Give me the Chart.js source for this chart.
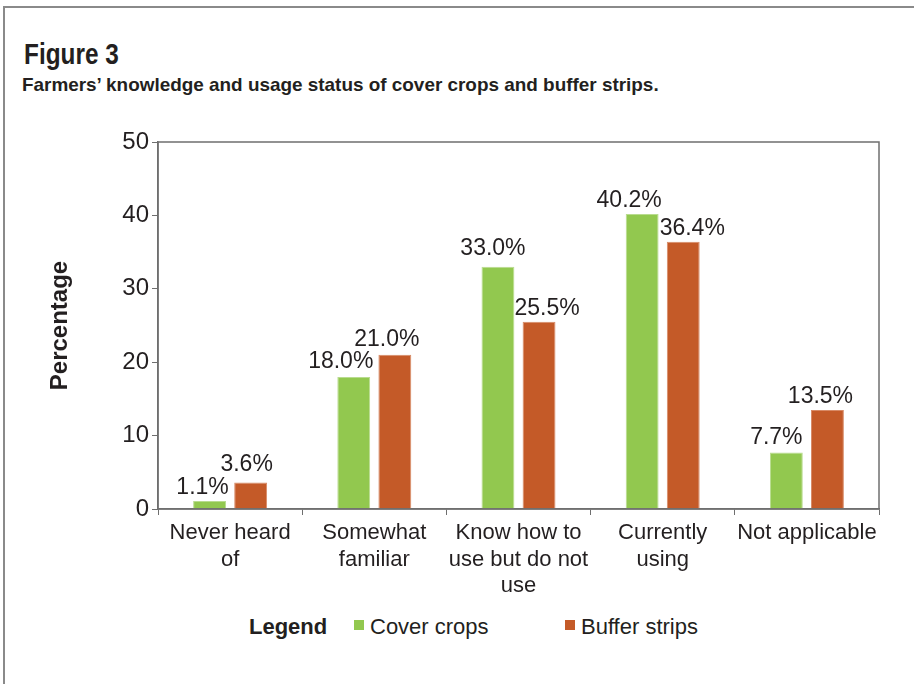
<!DOCTYPE html>
<html>
<head>
<meta charset="utf-8">
<script src="https://cdn.jsdelivr.net/npm/chart.js@4.4.1/dist/chart.umd.min.js"></script>
<style>
  html, body { margin: 0; padding: 0; width: 914px; height: 684px; overflow: hidden; background: #fff; }
  body { position: relative; font-family: "Liberation Sans", Arial, sans-serif; color: #231f20; }
  .frame { position: absolute; left: 3px; top: 6px; width: 2000px; height: 2000px;
           border-left: 2px solid #8a8a8a; border-top: 2px solid #8a8a8a; }
  .fig { position: absolute; left: 24px; top: 38px; font: bold 29px "Liberation Sans", Arial, sans-serif;
         transform: scaleX(0.84); transform-origin: left top; }
  .sub { position: absolute; left: 22px; top: 74px; font: bold 19px "Liberation Sans", Arial, sans-serif;
         transform: scaleX(0.995); transform-origin: left top; white-space: nowrap; }
  #wrap { position: absolute; left: 0; top: 120px; width: 900px; height: 480px; }
  .leg { position: absolute; top: 614px; font-size: 22px; line-height: 26px; white-space: nowrap; }
  .sw { position: absolute; top: 620px; width: 10px; height: 10px; }
</style>
</head>
<body>
<div class="frame"></div>
<div class="fig">Figure 3</div>
<div class="sub">Farmers’ knowledge and usage status of cover crops and buffer strips.</div>
<div id="wrap"><canvas id="chart"></canvas></div>
<div class="leg" style="left:249px;font-weight:bold;">Legend</div>
<div class="sw" style="left:354px;background:#92c84f;"></div>
<div class="leg" style="left:370px;">Cover crops</div>
<div class="sw" style="left:565px;background:#c45a28;"></div>
<div class="leg" style="left:581px;">Buffer strips</div>
<script>
const categories = [['Never heard', 'of'], ['Somewhat', 'familiar'], ['Know how to', 'use but do not', 'use'], ['Currently', 'using'], 'Not applicable'];
const coverCrops = [1.1, 18.0, 33.0, 40.2, 7.7];
const bufferStrips = [3.6, 21.0, 25.5, 36.4, 13.5];
const yTicks = [0, 10, 20, 30, 40, 50];

// small nudges so value labels sit like in the print version
const labelNudge = [
  [[-7, 0], [-13, -2], [-5, -5], [-13, 0], [-10, -1]],
  [[-4, -5], [-8, -2], [8, 0], [9, 0], [-7, 0]]
];

const valueLabels = {
  id: 'valueLabels',
  afterDatasetsDraw(chart) {
    const ctx = chart.ctx;
    ctx.save();
    ctx.font = '23px "Liberation Sans", Arial, sans-serif';
    ctx.fillStyle = '#231f20';
    ctx.textAlign = 'center';
    ctx.textBaseline = 'alphabetic';
    chart.data.datasets.forEach((ds, i) => {
      chart.getDatasetMeta(i).data.forEach((bar, j) => {
        const n = labelNudge[i][j];
        ctx.fillText(ds.data[j].toFixed(1) + '%', bar.x + n[0], bar.y - 7 + n[1]);
      });
    });
    ctx.restore();
  }
};

const plotBox = {
  id: 'plotBox',
  afterDraw(chart) {
    const a = chart.chartArea;
    const ctx = chart.ctx;
    ctx.save();
    ctx.strokeStyle = '#6f6f6f';
    ctx.lineWidth = 1.5;
    ctx.strokeRect(a.left, a.top, a.right - a.left, a.bottom - a.top);
    ctx.restore();
  }
};

const tickFont = { family: '"Liberation Sans", Arial, sans-serif', size: 22 };

new Chart(document.getElementById('chart'), {
  type: 'bar',
  data: {
    labels: categories,
    datasets: [
      { label: 'Cover crops', data: coverCrops, backgroundColor: '#92c84f', borderColor: '#b9dc8f', borderWidth: 1 },
      { label: 'Buffer strips', data: bufferStrips, backgroundColor: '#c45a28', borderColor: '#d88a66', borderWidth: 1 }
    ]
  },
  options: {
    responsive: true,
    maintainAspectRatio: false,
    animation: false,
    devicePixelRatio: 1,
    layout: { padding: { top: 22, right: 21, left: 0, bottom: 0 } },
    datasets: { bar: { categoryPercentage: 0.57, barPercentage: 0.8 } },
    plugins: { legend: { display: false }, tooltip: { enabled: false } },
    scales: {
      x: {
        grid: { drawOnChartArea: false, tickLength: 6, color: '#6f6f6f', offset: true },
        border: { color: '#6f6f6f', width: 1.5 },
        ticks: { font: tickFont, color: '#231f20', padding: 5, maxRotation: 0, autoSkip: false },
        afterFit(scale) { scale.height = 91; }
      },
      y: {
        min: 0,
        max: 50,
        afterBuildTicks(scale) { scale.ticks = yTicks.map(v => ({ value: v })); },
        grid: { drawOnChartArea: false, tickLength: 6, color: '#6f6f6f' },
        border: { color: '#6f6f6f', width: 1.5 },
        ticks: { font: { family: '"Liberation Sans", Arial, sans-serif', size: 24 }, color: '#231f20', padding: 3 },
        title: {
          display: true,
          text: 'Percentage',
          color: '#231f20',
          font: { family: '"Liberation Sans", Arial, sans-serif', size: 24, weight: 'bold' },
          padding: { top: 46, bottom: 0 }
        },
        afterFit(scale) { scale.width = 158; }
      }
    }
  },
  plugins: [valueLabels, plotBox]
});
</script>
</body>
</html>
